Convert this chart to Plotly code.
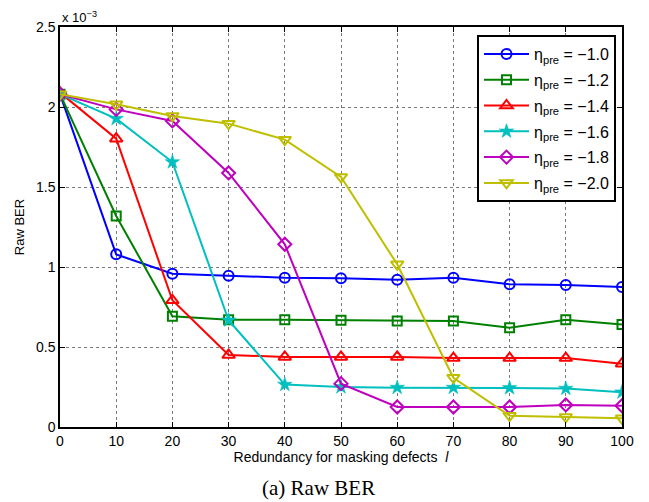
import plotly.graph_objects as go

x_vals = [0, 10, 20, 30, 40, 50, 60, 70, 80, 90, 100]

ber_10 = [2.08, 1.079, 0.958, 0.946, 0.933, 0.929, 0.921, 0.933, 0.892, 0.888, 0.875]
ber_12 = [2.08, 1.319, 0.692, 0.671, 0.671, 0.667, 0.663, 0.663, 0.621, 0.671, 0.640]
ber_14 = [2.09, 1.802, 0.792, 0.450, 0.438, 0.438, 0.438, 0.431, 0.431, 0.431, 0.396]
ber_16 = [2.08, 1.927, 1.656, 0.667, 0.265, 0.250, 0.246, 0.246, 0.244, 0.240, 0.217]
ber_18 = [2.08, 1.985, 1.913, 1.588, 1.142, 0.271, 0.125, 0.125, 0.125, 0.138, 0.133]
ber_20 = [2.08, 2.017, 1.944, 1.896, 1.796, 1.563, 1.017, 0.308, 0.071, 0.063, 0.054]

labels = ["η<sub>pre</sub> = −1.0", "η<sub>pre</sub> = −1.2", "η<sub>pre</sub> = −1.4",
          "η<sub>pre</sub> = −1.6", "η<sub>pre</sub> = −1.8", "η<sub>pre</sub> = −2.0"]
series = [ber_10, ber_12, ber_14, ber_16, ber_18, ber_20]
colors = ["#0000FF", "#008000", "#FF0000", "#00BFBF", "#BF00BF", "#BFBF00"]
symbols = ["circle-open", "square-open", "triangle-up-open", "star", "diamond-open", "triangle-down-open"]
sizes = [10, 9, 11, 11, 10, 11]

fig = go.Figure()
for i, (lab, ys, c, s, sz) in enumerate(zip(labels, series, colors, symbols, sizes)):
    fig.add_trace(go.Scatter(
        x=x_vals, y=ys, name=lab, mode="lines+markers", legendgroup=f"g{i}",
        line=dict(color=c, width=2),
        marker=dict(symbol=s, size=sz, color=c, line=dict(color=c, width=2 if s != "star" else 0.5)),
    ))

axis_common = dict(
    showline=True, linecolor="black", linewidth=1.5, mirror="allticks",
    ticks="inside", ticklen=5, tickcolor="black",
    showgrid=True, gridcolor="#7a7a7a", griddash="dot", gridwidth=1,
    zeroline=False, tickfont=dict(family="Liberation Sans, Arial", size=14, color="black"),
)

fig.update_xaxes(range=[0, 100], dtick=10,
                 title=dict(text="Redundancy for masking defects  <i>l</i>",
                            font=dict(family="Liberation Sans, Arial", size=14, color="black"),
                            standoff=3),
                 **axis_common)
fig.update_yaxes(range=[0, 2.5], dtick=0.5,
                 title=dict(text="Raw BER",
                            font=dict(family="Liberation Sans, Arial", size=13, color="black"),
                            standoff=8),
                 **axis_common)

fig.update_layout(
    width=649, height=502,
    margin=dict(l=60, r=27, t=27, b=75),
    plot_bgcolor="white", paper_bgcolor="white",
    font=dict(family="Liberation Sans, Arial", size=13, color="black"),
    legend=dict(x=0.742, y=0.98, xanchor="left", yanchor="top",
                bgcolor="white", bordercolor="black", borderwidth=2,
                font=dict(family="Liberation Sans, Arial", size=16, color="black"),
                tracegroupgap=2, itemwidth=45),
    annotations=[
        dict(text="x 10<sup>−3</sup>", x=0, y=1.0, xref="paper", yref="paper",
             xanchor="left", yanchor="bottom", showarrow=False,
             font=dict(family="Liberation Sans, Arial", size=13, color="black")),
        dict(text="(a) Raw BER", x=0.46, y=-0.118, xref="paper", yref="paper",
             xanchor="center", yanchor="top", showarrow=False,
             font=dict(family="Liberation Serif, Times New Roman", size=21, color="black")),
    ],
)

fig.write_html("out.html")
